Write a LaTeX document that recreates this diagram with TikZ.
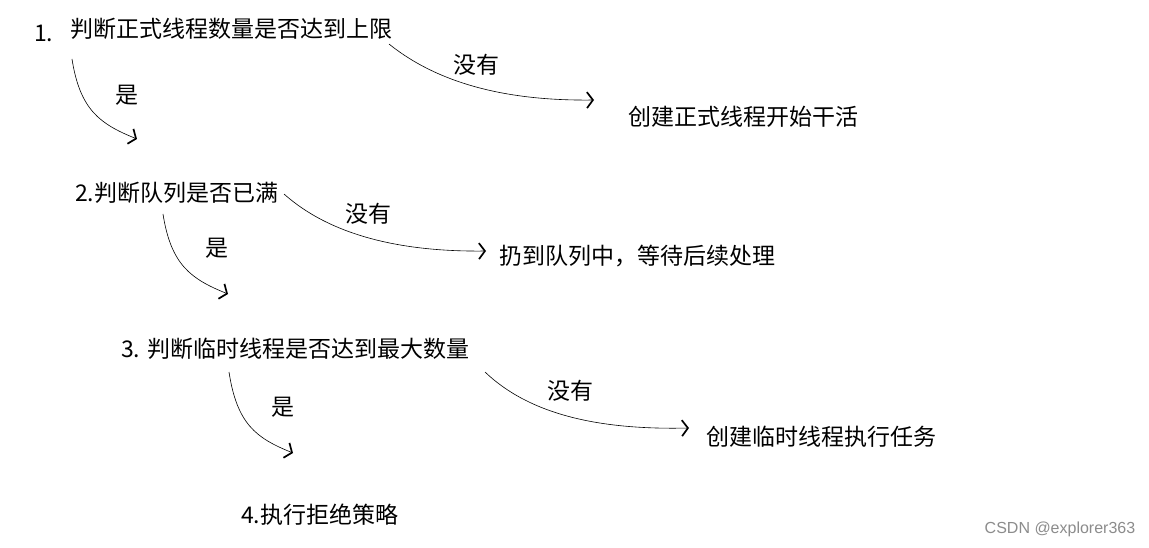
\documentclass[tikz,border=0pt]{standalone}
\usepackage{fontspec}
\setmainfont{Noto Sans CJK SC}
\newfontfamily\wmfont{Liberation Sans}
\usetikzlibrary{arrows.meta}
\begin{document}
\begin{tikzpicture}[x=1pt,y=-1pt,
  txt/.style={anchor=west,inner sep=0pt,font=\fontsize{23}{27}\selectfont},
  lbl/.style={inner sep=0pt,font=\fontsize{23}{27}\selectfont},
  conn/.style={line width=0.6pt,-{Straight Barb[length=6pt,width=16pt,line width=1.7pt]}}]
\path[use as bounding box,fill=white] (0,0) rectangle (1149,548);
% texts
\node[txt] (t1num) at (34,33) {1.};
\node[txt] (t1) at (70,29) {判断正式线程数量是否达到上限};
\node[txt] (r1) at (628,117) {创建正式线程开始干活};
\node[txt] (t2) at (75,193) {2.判断队列是否已满};
\node[txt] (r2) at (499,256) {扔到队列中，等待后续处理};
\node[txt] (t3) at (121,349) {3. 判断临时线程是否达到最大数量};
\node[txt] (r3) at (706,437) {创建临时线程执行任务};
\node[txt] (t4) at (241,515) {4.执行拒绝策略};
% labels
\node[lbl] (yes1) at (127,95) {是};
\node[lbl] (no1) at (476,65) {没有};
\node[lbl] (yes2) at (217,248) {是};
\node[lbl] (no2) at (368,214) {没有};
\node[lbl] (yes3) at (283,407) {是};
\node[lbl] (no3) at (570,391) {没有};
\node[inner sep=0pt,text=black!45,font=\wmfont\fontsize{16}{19}\selectfont] (wm) at (1060,529) {CSDN @explorer363};
% connector ends
\coordinate (a1s) at (72,59);  \coordinate (a1e) at (137,139);
\coordinate (b1s) at (389,44); \coordinate (b1e) at (594,100);
\coordinate (a2s) at (163,214);\coordinate (a2e) at (228,294);
\coordinate (b2s) at (284,194);\coordinate (b2e) at (486,251);
\coordinate (a3s) at (229,372);\coordinate (a3e) at (293,453);
\coordinate (b3s) at (485,372);\coordinate (b3e) at (689,428);
% connectors
\draw[conn] (a1s) .. controls (80,110) and (100,124) .. (a1e);
\draw[conn] (b1s) .. controls (440,85) and (510,101) .. (b1e);
\draw[conn] (a2s) .. controls (171,265) and (191,279) .. (a2e);
\draw[conn] (b2s) .. controls (330,235) and (400,252) .. (b2e);
\draw[conn] (a3s) .. controls (237,424) and (256,438) .. (a3e);
\draw[conn] (b3s) .. controls (530,415) and (600,430) .. (b3e);
\end{tikzpicture}
\end{document}
